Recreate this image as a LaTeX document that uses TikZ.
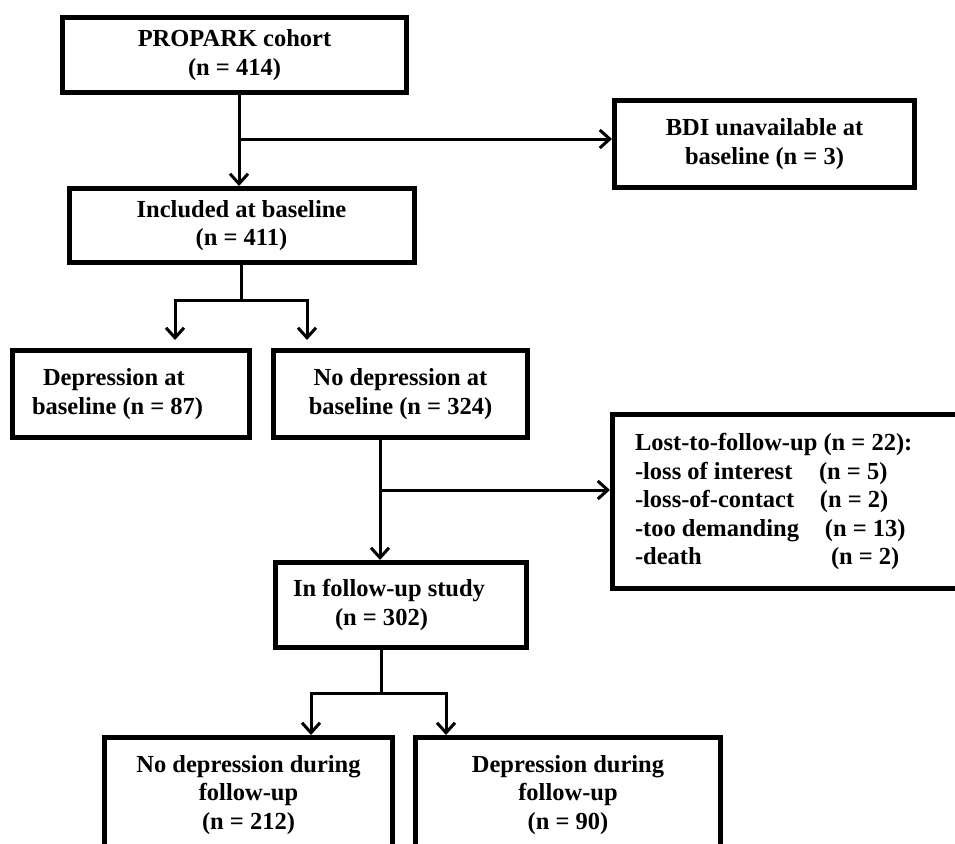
\documentclass[tikz,border=0pt]{standalone}
\usepackage{fontspec}
\setmainfont{Liberation Serif}
\usetikzlibrary{arrows.meta,positioning,calc}

\begin{document}
\begin{tikzpicture}[x=1pt, y=-1pt,
  box/.style={draw, line width=5pt, inner sep=0pt, align=center,
    font=\fontsize{24.5}{28.5}\selectfont\bfseries},
  line/.style={line width=3pt},
  arrow/.style={line width=3pt, -{Straight Barb[length=10pt,width=18pt]}}]

  \useasboundingbox (0,0) rectangle (955,843);
  \clip (0,0) rectangle (955,843);

  % Define the boxes
  \node[box, minimum width=344pt, minimum height=74pt] (propark) at (234.5,55) {PROPARK cohort\\(n = 414)};
  \node[box, minimum width=300pt, minimum height=87pt] (bdi) at (764.5,144) {BDI unavailable at\\baseline (n = 3)};
  \node[box, minimum width=345pt, minimum height=74pt] (incl) at (241.5,225.5) {Included at baseline\\(n = 411)};
  \node[box, minimum width=237pt, minimum height=87pt, text width=198pt, align=flush left] (depb) at (131,394)
    {\hspace*{11pt}Depression at\\baseline (n = 87)};
  \node[box, minimum width=254pt, minimum height=87pt] (nodep) at (400.5,394) {No depression at\\baseline (n = 324)};
  \node[box, minimum width=365pt, minimum height=174pt, text width=320pt, align=flush left] (lost) at (795,501.5)
    {Lost-to-follow-up (n = 22):\\
     \makebox[184pt][l]{-loss of interest}(n = 5)\\
     \makebox[185pt][l]{-loss-of-contact}(n = 2)\\
     \makebox[190pt][l]{-too demanding}(n = 13)\\
     \makebox[196pt][l]{-death}(n = 2)};
  \node[box, minimum width=251pt, minimum height=85pt, text width=216pt, align=flush left] (fu) at (401,605)
    {In follow-up study\\\hspace*{42pt}(n = 302)};
  \node[box, minimum width=288pt, minimum height=115pt] (nfu) at (248.5,795) {No depression during\\follow-up\\(n = 212)};
  \node[box, minimum width=305pt, minimum height=115pt] (dfu) at (568,795) {Depression during\\follow-up\\(n = 90)};

  % Define the forks
  \coordinate (fork1) at ($(incl.south)+(0,35)$);
  \coordinate (fork2) at (380,490);
  \coordinate (fork3) at ($([xshift=-20pt]fu.south)+(0,43)$);

  % Draw arrows between boxes
  \draw[arrow] ([xshift=4.5pt]propark.south) -- ([xshift=-2.5pt]incl.north);
  \draw[arrow] ([xshift=4.5pt]propark.south |- 0,139) -- (bdi.west |- 0,139);
  \draw[line] (incl.south) -- (fork1);
  \draw[arrow, shorten >=8pt] (fork1) -| ([xshift=44pt]depb.north);
  \draw[arrow, shorten >=8pt] (fork1) -| ([xshift=-93.5pt]nodep.north);
  \draw[arrow] ([xshift=-20.5pt]nodep.south) -- ([xshift=-21pt]fu.north);
  \draw[arrow] (fork2) -- ([yshift=11.5pt]lost.west);
  \draw[line] ([xshift=-20pt]fu.south) -- (fork3);
  \draw[arrow] (fork3) -| ([xshift=62.5pt]nfu.north);
  \draw[arrow] (fork3) -| ([xshift=-122pt]dfu.north);
\end{tikzpicture}
\end{document}
